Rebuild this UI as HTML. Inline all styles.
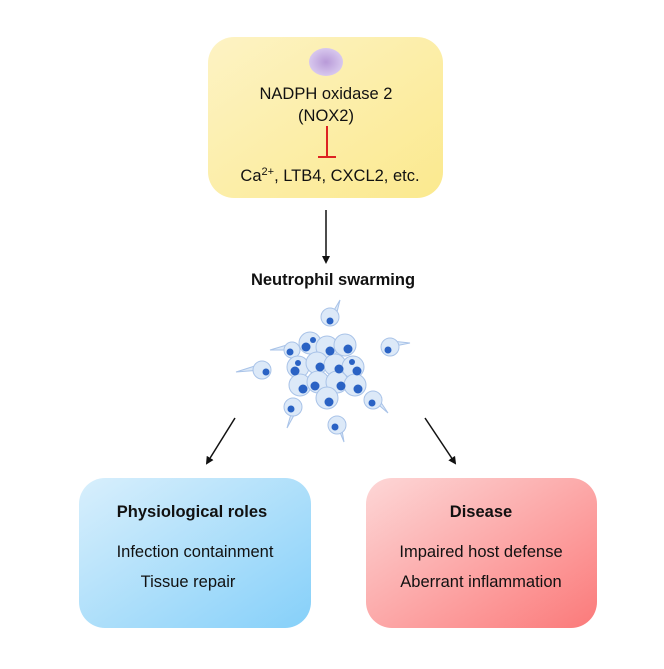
<!DOCTYPE html>
<html><head><style>
body{margin:0;width:664px;height:664px;background:#fff;overflow:hidden;font-family:"Liberation Sans",Arial,sans-serif;}
</style></head><body>
<svg width="664" height="664" viewBox="0 0 664 664" xmlns="http://www.w3.org/2000/svg" font-family="Liberation Sans, Arial, sans-serif">
<defs>
<linearGradient id="gy" x1="0" y1="0" x2="1" y2="1"><stop offset="0" stop-color="#fdf3c4"/><stop offset="1" stop-color="#fbe98e"/></linearGradient>
<linearGradient id="gb" x1="0" y1="0" x2="1" y2="1"><stop offset="0" stop-color="#d8effc"/><stop offset="1" stop-color="#86d0f9"/></linearGradient>
<linearGradient id="gr" x1="0" y1="0" x2="1" y2="1"><stop offset="0" stop-color="#fdd7d7"/><stop offset="1" stop-color="#fb7a7a"/></linearGradient>
<radialGradient id="gp"><stop offset="0" stop-color="#b89ad8"/><stop offset="1" stop-color="#d8c8ee"/></radialGradient>
<marker id="ar" markerWidth="8" markerHeight="8" refX="6" refY="4" orient="auto" markerUnits="userSpaceOnUse"><path d="M0,0 L8,4 L0,8 z" fill="#111"/></marker>
</defs>
<rect x="208" y="37" width="235" height="161" rx="26" fill="url(#gy)"/>
<ellipse cx="326" cy="62" rx="17" ry="14" fill="url(#gp)"/>
<text x="326" y="99" font-size="16.5" text-anchor="middle" fill="#111">NADPH oxidase 2</text>
<text x="326" y="121" font-size="16.5" text-anchor="middle" fill="#111">(NOX2)</text>
<line x1="327" y1="126" x2="327" y2="157" stroke="#d22" stroke-width="2"/>
<line x1="318" y1="157" x2="336" y2="157" stroke="#d22" stroke-width="2"/>
<text x="330" y="181" font-size="16.5" text-anchor="middle" fill="#111">Ca<tspan font-size="11" dy="-6">2+</tspan><tspan dy="6">, LTB4, CXCL2, etc.</tspan></text>
<line x1="326" y1="210" x2="326" y2="262" stroke="#111" stroke-width="1.5" marker-end="url(#ar)"/>
<text x="333" y="285" font-size="16.5" font-weight="bold" text-anchor="middle" fill="#111">Neutrophil swarming</text>
<g fill="#dce9f8" stroke="#a9c3e8" stroke-width="1">
<path d="M262,370 L236,372 L258,365z"/><path d="M330,317 L340,300 L336,316z"/><path d="M390,347 L410,343 L392,341z"/>
<path d="M293,407 L287,428 L298,408z"/><path d="M373,400 L388,413 L378,398z"/><path d="M337,425 L344,442 L341,424z"/><path d="M292,350 L270,350 L290,344z"/>
<circle cx="262" cy="370" r="9"/><circle cx="330" cy="317" r="9"/><circle cx="390" cy="347" r="9"/><circle cx="292" cy="350" r="8"/>
<circle cx="293" cy="407" r="9"/><circle cx="373" cy="400" r="9"/><circle cx="337" cy="425" r="9"/>
<circle cx="310" cy="343" r="11"/><circle cx="327" cy="347" r="11"/><circle cx="345" cy="345" r="11"/>
<circle cx="298" cy="367" r="11"/><circle cx="317" cy="363" r="11"/><circle cx="335" cy="365" r="11"/><circle cx="353" cy="367" r="11"/>
<circle cx="300" cy="385" r="11"/><circle cx="318" cy="382" r="11"/><circle cx="337" cy="382" r="11"/><circle cx="355" cy="385" r="11"/>
<circle cx="327" cy="398" r="11"/>
</g>
<g fill="#2a62c4">
<circle cx="266" cy="372" r="3.5"/><circle cx="330" cy="321" r="3.5"/><circle cx="388" cy="350" r="3.5"/><circle cx="290" cy="352" r="3.5"/>
<circle cx="291" cy="409" r="3.5"/><circle cx="372" cy="403" r="3.5"/><circle cx="335" cy="427" r="3.5"/>
<circle cx="306" cy="347" r="4.5"/><circle cx="330" cy="351" r="4.5"/><circle cx="348" cy="349" r="4.5"/>
<circle cx="295" cy="371" r="4.5"/><circle cx="320" cy="367" r="4.5"/><circle cx="339" cy="369" r="4.5"/><circle cx="357" cy="371" r="4.5"/>
<circle cx="303" cy="389" r="4.5"/><circle cx="315" cy="386" r="4.5"/><circle cx="341" cy="386" r="4.5"/><circle cx="358" cy="389" r="4.5"/>
<circle cx="329" cy="402" r="4.5"/><circle cx="313" cy="340" r="3"/><circle cx="298" cy="363" r="3"/><circle cx="352" cy="362" r="3"/>
</g>
<line x1="235" y1="418" x2="207" y2="463" stroke="#111" stroke-width="1.5" marker-end="url(#ar)"/>
<line x1="425" y1="418" x2="455" y2="463" stroke="#111" stroke-width="1.5" marker-end="url(#ar)"/>
<rect x="79" y="478" width="232" height="150" rx="26" fill="url(#gb)"/>
<text x="192" y="517" font-size="16.5" font-weight="bold" text-anchor="middle" fill="#111">Physiological roles</text>
<text x="195" y="557" font-size="16.5" text-anchor="middle" fill="#111">Infection containment</text>
<text x="188" y="587" font-size="16.5" text-anchor="middle" fill="#111">Tissue repair</text>
<rect x="366" y="478" width="231" height="150" rx="26" fill="url(#gr)"/>
<text x="481" y="517" font-size="16.5" font-weight="bold" text-anchor="middle" fill="#111">Disease</text>
<text x="481" y="557" font-size="16.5" text-anchor="middle" fill="#111">Impaired host defense</text>
<text x="481" y="587" font-size="16.5" text-anchor="middle" fill="#111">Aberrant inflammation</text>
</svg>
</body></html>
